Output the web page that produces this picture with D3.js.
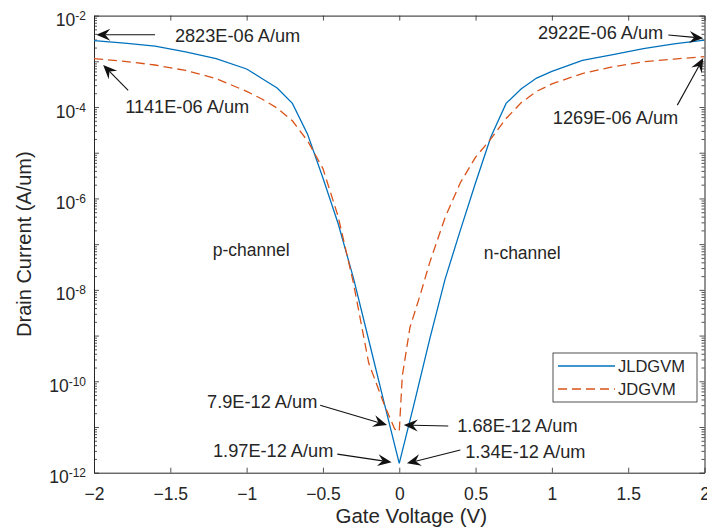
<!DOCTYPE html>
<html>
<head>
<meta charset="utf-8">
<script src="https://cdn.jsdelivr.net/npm/d3@7"></script>
<style>
  body { margin: 0; background: #fff; }
  text { font-family: "Liberation Sans", Arial, sans-serif; fill: #262626; }
</style>
</head>
<body>
<svg id="chart" width="707" height="528"></svg>
<script>
// Gate voltage (V) and drain current (A/um)
const jldgvmVoltage = [-2, -1.8, -1.6, -1.4, -1.2, -1, -0.9, -0.8, -0.7, -0.6, -0.5, -0.4, -0.3, -0.2, -0.1, 0,
    0.1, 0.2, 0.3, 0.4, 0.5, 0.6, 0.7, 0.8, 0.9, 1, 1.2, 1.4, 1.6, 1.8, 2];
const jldgvmCurrent = [2.823e-3, 2.5e-3, 2.15e-3, 1.6e-3, 1.15e-3, 6.8e-4, 4.2e-4, 2.6e-4, 1.2e-4, 2.5e-5, 2.8e-6, 2.8e-7, 1.8e-8, 8e-10, 3.5e-11, 1.6e-12,
    3.5e-11, 8.5e-10, 1.7e-8, 2e-7, 2.2e-6, 2.2e-5, 1.2e-4, 2.5e-4, 4.3e-4, 6e-4, 1.05e-3, 1.4e-3, 1.9e-3, 2.4e-3, 2.922e-3];

const jdgvmVoltage = [-2, -1.8, -1.6, -1.4, -1.2, -1, -0.9, -0.8, -0.7, -0.6, -0.5, -0.4, -0.3, -0.2, -0.1, -0.03, 0,
    0.02, 0.07, 0.14, 0.2, 0.3, 0.4, 0.5, 0.6, 0.7, 0.8, 0.9, 1, 1.2, 1.4, 1.6, 1.8, 2];
const jdgvmCurrent = [1.141e-3, 1.0e-3, 8.3e-4, 6.3e-4, 4.2e-4, 2.2e-4, 1.5e-4, 9.5e-5, 5e-5, 1.8e-5, 4.5e-6, 4e-7, 1.4e-8, 2.5e-10, 3.2e-11, 9e-12, 7.9e-12,
    1.3e-10, 1.5e-9, 8.3e-9, 4e-8, 3.8e-7, 2.2e-6, 8e-6, 2e-5, 5.6e-5, 1.25e-4, 2.2e-4, 3.2e-4, 5.4e-4, 7.6e-4, 9.8e-4, 1.12e-3, 1.269e-3];

const seriesNames = ['JLDGVM', 'JDGVM'];
const xTicks = [-2, -1.5, -1, -0.5, 0, 0.5, 1, 1.5, 2];
const yLabelExponents = [-2, -4, -6, -8, -10, -12];
const yMajorExponents = [-12, -11, -10, -9, -8, -7, -6, -5, -4, -3, -2];

const calloutTexts = ['2823E-06 A/um', '1141E-06 A/um', '2922E-06 A/um', '1269E-06 A/um',
    '7.9E-12 A/um', '1.97E-12 A/um', '1.68E-12 A/um', '1.34E-12 A/um'];
const regionLabels = ['p-channel', 'n-channel'];

// callout placement in data units: arrow tip, arrow tail, text anchor point
const calloutLayout = [
    {tip: [-1.985, 3.8e-3], tail: [-1.6, 3.8e-3], at: [-1.47, 3.6e-3], anchor: 'start'},
    {tip: [-1.94, 8.3e-4], tail: [-1.776, 2.3e-4], at: [-1.796, 1e-4], anchor: 'start'},
    {tip: [1.992, 3.2e-3], tail: [1.763, 3.76e-3], at: [1.73, 4.2e-3], anchor: 'end'},
    {tip: [1.992, 1.18e-3], tail: [1.822, 1.1e-4], at: [1.828, 5.8e-5], anchor: 'end'},
    {tip: [-0.08, 1.1e-11], tail: [-0.518, 3.0e-11], at: [-0.537, 3.5e-11], anchor: 'end'},
    {tip: [-0.05, 1.7e-12], tail: [-0.406, 2.55e-12], at: [-0.432, 2.95e-12], anchor: 'end'},
    {tip: [0.03, 1.1e-11], tail: [0.321, 1.05e-11], at: [0.38, 1.05e-11], anchor: 'start'},
    {tip: [0.05, 1.6e-12], tail: [0.40, 3.15e-12], at: [0.432, 2.8e-12], anchor: 'start'}
];
const regionLayout = [[-0.97, 7.4e-8], [0.806, 6.3e-8]];

const width = 707, height = 528;
const margin = {top: 15.6, right: 2.5, bottom: 55.3, left: 94};
const axisColor = '#262626';
const colors = ['#0072BD', '#D95319'];

const svg = d3.select('#chart');

const x = d3.scaleLinear().domain([-2, 2]).range([margin.left, width - margin.right]);
const y = d3.scaleLog().domain([1e-12, 1e-2]).range([height - margin.bottom, margin.top]);

// minor log ticks 2..9 in each decade
const minorTicks = [];
for (let e = -12; e < -2; e++) {
    for (let k = 2; k <= 9; k++) minorTicks.push(k * Math.pow(10, e));
}
const majorTicks = yMajorExponents.map(e => Math.pow(10, e));

function styleAxis(g) {
    g.select('.domain').attr('stroke', axisColor).attr('stroke-width', 1);
    g.selectAll('.tick line').attr('stroke', axisColor).attr('stroke-width', 0.8);
}

// bottom + top
svg.append('g')
    .attr('transform', `translate(0,${height - margin.bottom})`)
    .call(d3.axisBottom(x).tickValues(xTicks).tickSize(-5).tickSizeOuter(0).tickPadding(14.5)
        .tickFormat(d => d3.format('')(d)))
    .call(styleAxis)
    .call(g => g.selectAll('.tick text').attr('font-size', 17.5).attr('fill', axisColor)
        .attr('font-family', '"Liberation Sans", Arial, sans-serif'));
svg.append('g')
    .attr('transform', `translate(0,${margin.top})`)
    .call(d3.axisTop(x).tickValues(xTicks).tickSize(-5).tickSizeOuter(0).tickFormat(''))
    .call(styleAxis);

// left + right, major and minor
[[margin.left, d3.axisLeft], [width - margin.right, d3.axisRight]].forEach(([pos, axisFn]) => {
    svg.append('g')
        .attr('transform', `translate(${pos},0)`)
        .call(axisFn(y).tickValues(majorTicks).tickSize(-5).tickSizeOuter(0).tickFormat(''))
        .call(styleAxis);
    svg.append('g')
        .attr('transform', `translate(${pos},0)`)
        .call(axisFn(y).tickValues(minorTicks).tickSize(-3).tickSizeOuter(0).tickFormat(''))
        .call(styleAxis)
        .call(g => g.select('.domain').remove());
});

// y tick labels with superscripts
const yLabels = svg.append('g').selectAll('text')
    .data(yLabelExponents)
    .enter().append('text')
    .attr('x', margin.left - 8)
    .attr('y', d => y(Math.pow(10, d)) + 10.5)
    .attr('text-anchor', 'end')
    .attr('font-size', 17.5);
yLabels.append('tspan').text('10');
yLabels.append('tspan').attr('dy', -6).attr('font-size', 12).text(d => d);

// axis titles
svg.append('text')
    .attr('x', (margin.left + width - margin.right) / 2 + 12)
    .attr('y', 522.5)
    .attr('text-anchor', 'middle')
    .attr('font-size', 20.5)
    .text('Gate Voltage (V)');
svg.append('text')
    .attr('transform', `translate(31,${(margin.top + height - margin.bottom) / 2}) rotate(-90)`)
    .attr('text-anchor', 'middle')
    .attr('font-size', 20)
    .text('Drain Current (A/um)');

// curves
const line = d3.line().x(d => x(d[0])).y(d => y(d[1]));
svg.append('clipPath').attr('id', 'plot-clip').append('rect')
    .attr('x', margin.left).attr('y', margin.top)
    .attr('width', width - margin.left - margin.right)
    .attr('height', height - margin.top - margin.bottom);

const series = [
    d3.zip(jldgvmVoltage, jldgvmCurrent),
    d3.zip(jdgvmVoltage, jdgvmCurrent)
];
svg.append('g').attr('clip-path', 'url(#plot-clip)')
    .selectAll('path')
    .data(series)
    .enter().append('path')
    .attr('d', line)
    .attr('fill', 'none')
    .attr('stroke', (d, i) => colors[i])
    .attr('stroke-width', 1.3)
    .attr('stroke-dasharray', (d, i) => i === 1 ? '9,5' : null);

// region labels
svg.append('g').selectAll('text')
    .data(regionLabels)
    .enter().append('text')
    .attr('x', (d, i) => x(regionLayout[i][0]))
    .attr('y', (d, i) => y(regionLayout[i][1]) + 6)
    .attr('text-anchor', 'middle')
    .attr('font-size', 17.5)
    .attr('fill', '#222')
    .text(d => d);

// callouts with filled, notched arrowheads
function arrowHead(tx, ty, ang) {
    const L = 14, W = 6, N = 5;
    const pts = [[0, 0], [-L, W], [-L + N, 0], [-L, -W]].map(([px, py]) => [
        tx + px * Math.cos(ang) - py * Math.sin(ang),
        ty + px * Math.sin(ang) + py * Math.cos(ang)
    ]);
    return 'M' + pts.map(p => p.join(',')).join('L') + 'Z';
}
const callouts = svg.append('g').selectAll('g')
    .data(calloutTexts)
    .enter().append('g');
callouts.each(function (d, i) {
    const c = calloutLayout[i];
    const x1 = x(c.tail[0]), y1 = y(c.tail[1]), x2 = x(c.tip[0]), y2 = y(c.tip[1]);
    const ang = Math.atan2(y2 - y1, x2 - x1);
    const g = d3.select(this);
    g.append('line')
        .attr('x1', x1).attr('y1', y1)
        .attr('x2', x2 - 9 * Math.cos(ang)).attr('y2', y2 - 9 * Math.sin(ang))
        .attr('stroke', '#111').attr('stroke-width', 1.1);
    g.append('path').attr('d', arrowHead(x2, y2, ang)).attr('fill', '#111');
    g.append('text')
        .attr('x', x(c.at[0]))
        .attr('y', y(c.at[1]) + 6)
        .attr('text-anchor', c.anchor)
        .attr('font-size', 18.2)
        .attr('fill', '#222')
        .text(d);
});

// legend
const legend = svg.append('g').attr('transform', 'translate(553,353)');
legend.append('rect')
    .attr('width', 144).attr('height', 49)
    .attr('fill', '#fff').attr('stroke', axisColor).attr('stroke-width', 0.8);
const entries = legend.selectAll('g.entry')
    .data(seriesNames)
    .enter().append('g')
    .attr('class', 'entry')
    .attr('transform', (d, i) => `translate(0,${13 + i * 23})`);
entries.append('line')
    .attr('x1', 5).attr('x2', 62)
    .attr('stroke', (d, i) => colors[i])
    .attr('stroke-width', 1.3)
    .attr('stroke-dasharray', (d, i) => i === 1 ? '9,5' : null);
entries.append('text')
    .attr('x', 65).attr('y', 6)
    .attr('font-size', 16.5)
    .text(d => d);
</script>
</body>
</html>
